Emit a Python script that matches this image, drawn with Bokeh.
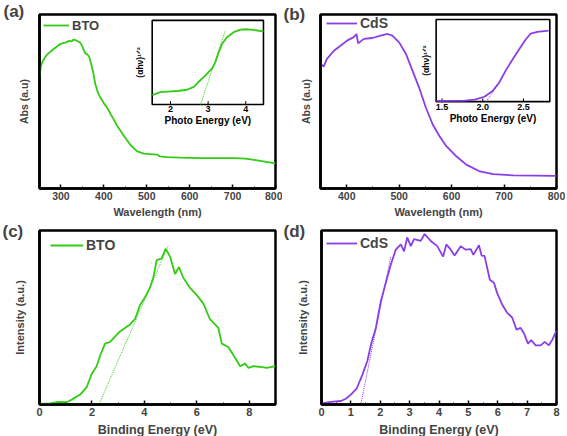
import numpy as np
from bokeh.plotting import figure
from bokeh.models import (Range1d, SingleIntervalTicker, FixedTicker,
                          Legend, LegendItem)
from bokeh.layouts import row, column
from bokeh.embed import file_html
from bokeh.resources import INLINE
from bokeh.core.properties import value

FONT = "Liberation Sans"
GREEN = "#33cc14"
PURPLE = "#8a3fe6"
LW = 1.8

# ---------------- data (y normalised 0..1) -------------
# (a) BTO UV-vis absorbance
BTO_WL = [250, 253, 257, 262, 268, 275, 282, 290, 298, 305, 312, 318, 324, 330,
          335, 340, 345, 350, 355, 358, 362, 366, 370, 375, 380, 385, 390, 395,
          400, 410, 415, 420, 431, 446, 462, 477, 493, 510, 524, 530, 547, 580,
          625, 660, 703, 730, 750, 775, 800]
BTO_ABS = [0.64, 0.70, 0.73, 0.75, 0.77, 0.785, 0.80, 0.815, 0.83, 0.835, 0.84,
           0.848, 0.845, 0.856, 0.852, 0.845, 0.838, 0.815, 0.785, 0.775, 0.77,
           0.755, 0.72, 0.67, 0.60, 0.56, 0.53, 0.51, 0.49, 0.455, 0.43, 0.41,
           0.36, 0.305, 0.25, 0.215, 0.20, 0.197, 0.195, 0.185, 0.18, 0.177,
           0.175, 0.174, 0.175, 0.172, 0.165, 0.155, 0.145]
# (a) inset: Tauc plot
BTO_E = [1.52, 1.73, 2.0, 2.18, 2.44, 2.62, 2.75, 2.93, 3.10, 3.19, 3.28, 3.37,
         3.50, 3.68, 3.86, 4.0, 4.13, 4.3, 4.47]
BTO_TAUC = [0.11, 0.146, 0.155, 0.16, 0.175, 0.21, 0.27, 0.345, 0.425, 0.50,
            0.62, 0.72, 0.80, 0.86, 0.89, 0.895, 0.89, 0.88, 0.87]
BTO_TAUC_FIT_E = [2.80, 3.45]
BTO_TAUC_FIT_V = [0.0, 0.87]
INSET_A_X = [1.515, 4.47]
INSET_A_TICKS = [2, 3, 4]

# (b) CdS UV-vis absorbance
CDS_WL = [350, 351, 356, 362, 375, 388, 400.6, 413.5, 418.6, 421.8, 432.7, 449,
          464.7, 477.6, 487, 500, 513, 525.6, 538, 551, 564, 577, 590, 609, 628,
          654, 679, 718, 760, 800]
CDS_ABS = [0.734, 0.715, 0.70, 0.744, 0.79, 0.82, 0.85, 0.87, 0.888, 0.834,
           0.86, 0.865, 0.879, 0.888, 0.879, 0.84, 0.773, 0.676, 0.58, 0.464,
           0.368, 0.30, 0.243, 0.185, 0.137, 0.098, 0.083, 0.075, 0.074, 0.073]
# (b) inset: Tauc plot
CDS_E = [1.43, 1.49, 1.78, 1.90, 2.02, 2.12, 2.20, 2.28, 2.37, 2.45, 2.53, 2.59,
         2.67, 2.81]
CDS_TAUC = [0.01, 0.01, 0.012, 0.025, 0.06, 0.13, 0.23, 0.375, 0.52, 0.64,
            0.76, 0.83, 0.85, 0.865]
CDS_TAUC_FIT_E = [2.04, 2.20]
CDS_TAUC_FIT_V = [0.0, 0.22]
INSET_B_X = [1.427, 2.824]
INSET_B_TICKS = [1.5, 2.0, 2.5]

# (c) BTO valence-band XPS
BTO_BE = [0.0, 0.4, 0.72, 1.04, 1.23, 1.55, 1.8, 1.99, 2.18, 2.31, 2.5, 2.69,
          2.88, 3.07, 3.26, 3.45, 3.64, 3.83, 4.02, 4.21, 4.34, 4.47, 4.66, 4.81,
          4.98, 5.17, 5.32, 5.48, 5.74, 5.99, 6.25, 6.5, 6.82, 6.95, 7.2, 7.45,
          7.65, 7.84, 7.97, 8.16, 8.48, 8.67, 9.0]
BTO_INT = [0.005, 0.007, 0.015, 0.013, 0.028, 0.057, 0.10, 0.175, 0.22, 0.28,
           0.35, 0.36, 0.39, 0.42, 0.44, 0.46, 0.49, 0.57, 0.615, 0.67, 0.73,
           0.83, 0.84, 0.895, 0.85, 0.75, 0.79, 0.73, 0.67, 0.63, 0.58, 0.49,
           0.44, 0.35, 0.33, 0.27, 0.22, 0.235, 0.21, 0.22, 0.215, 0.21, 0.22]
BTO_VB_FIT_E = [2.18, 4.91]
BTO_VB_FIT_V = [-0.03, 0.912]

# (d) CdS valence-band XPS
CDS_BE = [0.0, 0.32, 0.66, 0.83, 1.0, 1.2, 1.39, 1.56, 1.70, 1.85, 2.02, 2.19,
          2.36, 2.53, 2.70, 2.81, 2.92, 3.04, 3.15, 3.38, 3.51, 3.72, 3.94, 4.14,
          4.25, 4.4, 4.53, 4.74, 4.91, 5.08, 5.17, 5.36, 5.45, 5.55, 5.73, 5.87,
          5.98, 6.15, 6.32, 6.49, 6.64, 6.78, 6.89, 7.03, 7.14, 7.29, 7.46, 7.6,
          7.74, 7.85, 8.0]
CDS_INT = [0.006, 0.015, 0.02, 0.033, 0.057, 0.092, 0.17, 0.25, 0.355, 0.44,
           0.594, 0.70, 0.805, 0.89, 0.92, 0.88, 0.96, 0.91, 0.95, 0.94, 0.98,
           0.94, 0.91, 0.85, 0.92, 0.89, 0.856, 0.91, 0.89, 0.893, 0.86, 0.915,
           0.856, 0.854, 0.717, 0.70, 0.64, 0.575, 0.527, 0.50, 0.43, 0.44,
           0.41, 0.35, 0.37, 0.34, 0.34, 0.36, 0.34, 0.37, 0.425]
CDS_VB_FIT_E = [1.28, 2.36]
CDS_VB_FIT_V = [-0.047, 0.852]


def panel(x_range, interval, fw, fh, bl, br, bt, bb, xlabel, ylabel,
          tick_fs, xlab_fs, ylab_fs, ylab_standoff, tag, tag_dx, tag_standoff,
          lab_standoff):
    p = figure(frame_width=fw, frame_height=fh, x_range=x_range,
               y_range=(0, 1), output_backend="svg", toolbar_location=None,
               min_border_left=bl, min_border_right=br, min_border_top=bt,
               min_border_bottom=bb)
    p.background_fill_color = "white"
    p.border_fill_color = "white"
    p.outline_line_color = "black"
    p.outline_line_width = 2.5
    p.grid.visible = False
    # panel tag "(a)" etc.
    p.title.text = tag
    p.title.align = "left"
    p.title.offset = tag_dx
    p.title.standoff = tag_standoff
    p.title.vertical_align = "bottom"
    p.title.text_font = FONT
    p.title.text_font_style = "bold"
    p.title.text_font_size = "17px"
    ax = p.xaxis[0]
    ax.ticker = SingleIntervalTicker(interval=interval, num_minor_ticks=2)
    ax.axis_line_width = 2.5
    ax.major_tick_in = 4
    ax.major_tick_out = 0
    ax.minor_tick_in = 2
    ax.minor_tick_out = 0
    ax.major_tick_line_width = 1.5
    ax.major_label_standoff = 3
    ax.major_label_text_font = FONT
    ax.major_label_text_font_style = "bold"
    ax.major_label_text_font_size = tick_fs
    ax.axis_label = xlabel
    ax.axis_label_standoff = lab_standoff
    ax.axis_label_text_font = FONT
    ax.axis_label_text_font_style = "bold"
    ax.axis_label_text_font_size = xlab_fs
    ay = p.yaxis[0]
    ay.ticker = FixedTicker(ticks=[])
    ay.axis_line_width = 2.5
    ay.major_tick_line_color = None
    ay.minor_tick_line_color = None
    ay.axis_label = ylabel
    ay.axis_label_standoff = ylab_standoff
    ay.axis_label_text_font = FONT
    ay.axis_label_text_font_style = "bold"
    ay.axis_label_text_font_size = ylab_fs
    return p


def add_legend(p, r, text, fh, gx, cy, gw, fs):
    leg = Legend(items=[LegendItem(label=text, renderers=[r])],
                 location=(gx, fh - cy - 8), margin=0, padding=0,
                 glyph_width=gw, glyph_height=16, label_height=16,
                 label_standoff=3, label_text_font=FONT,
                 label_text_font_style="bold", label_text_font_size=fs,
                 border_line_alpha=0, background_fill_alpha=0)
    p.add_layout(leg)


def inset_range(lo, hi, f0, f1):
    span = (hi - lo) / (f1 - f0)
    start = lo - f0 * span
    return Range1d(start=start, end=start + span)


def add_inset(p, name, xr, fx, fy, ticks, tick_labels, color, xs, ys,
              fit_x, fit_y, ylab_off):
    p.extra_x_ranges[name] = inset_range(xr[0], xr[1], fx[0], fx[1])
    p.extra_y_ranges[name] = inset_range(0, 1, fy[0], fy[1])
    kw = dict(x_range_name=name, y_range_name=name)
    p.quad(left=[xr[0]], right=[xr[1]], bottom=[0], top=[1],
           fill_color="white", line_color="black", line_width=1.6, **kw)
    p.segment(x0=ticks, x1=ticks, y0=[0] * len(ticks), y1=[0.04] * len(ticks),
              line_color="black", line_width=1, **kw)
    p.line(fit_x, fit_y, line_color=color, line_width=1, line_dash="1 1", **kw)
    p.line(xs, ys, line_color=color, line_width=LW, **kw)
    p.text(x=ticks, y=[0] * len(ticks), text=tick_labels, y_offset=2,
           text_align="center", text_baseline="top", text_font=value(FONT),
           text_font_style="bold", text_font_size="9px", **kw)
    p.text(x=[(xr[0] + xr[1]) / 2], y=[0], text=["Photo Energy (eV)"],
           y_offset=11, text_align="center", text_baseline="top",
           text_font=value(FONT), text_font_style="bold",
           text_font_size="10px", **kw)
    p.text(x=[xr[0]], y=[0.5], text=["(αhν)¹ᐟ²"], x_offset=-ylab_off,
           angle=np.pi / 2, text_align="center", text_baseline="middle",
           text_font=value(FONT), text_font_style="bold",
           text_font_size="8.5px", **kw)


# ---------------- panel (a) ----------------
FH = 174
pa = panel((250, 800), 100, 236, FH, 39, 7, 14, 30, "Wavelength (nm)",
           "Abs (a.u)", "10.5px", "11px", "10.5px", 10, "(a)", -36, -12, 3)
ra = pa.line(BTO_WL, BTO_ABS, line_color=GREEN, line_width=LW)
add_legend(pa, ra, "BTO", FH, 4, 11, 26, "13px")
add_inset(pa, "ia", INSET_A_X, (0.4775, 0.949), (0.483, 0.966),
          INSET_A_TICKS, [str(t) for t in INSET_A_TICKS], GREEN,
          BTO_E, BTO_TAUC, BTO_TAUC_FIT_E, BTO_TAUC_FIT_V, 12)

# ---------------- panel (b) ----------------
pb = panel((350, 800), 100, 236, FH, 38, 9, 14, 30, "Wavelength (nm)",
           "Abs (a.u)", "10.5px", "11px", "10.5px", 9, "(b)", -37, -18, 3)
rb = pb.line(CDS_WL, CDS_ABS, line_color=PURPLE, line_width=LW)
add_legend(pb, rb, "CdS", FH, 6, 9, 31, "14px")
add_inset(pb, "ib", INSET_B_X, (0.490, 0.9716), (0.499, 0.971),
          INSET_B_TICKS, ["%.1f" % t for t in INSET_B_TICKS], PURPLE,
          CDS_E, CDS_TAUC, CDS_TAUC_FIT_E, CDS_TAUC_FIT_V, 10)

# ---------------- panel (c) ----------------
pc = panel((0, 9), 2, 236, FH, 39, 7, 10, 33, "Binding Energy (eV)",
           "Intensity (a.u.)", "11px", "12.5px", "11px", 14, "(c)", -37, -20, 4)
pc.line(BTO_VB_FIT_E, BTO_VB_FIT_V, line_color=GREEN, line_width=1,
        line_dash="1 1")
rc = pc.line(BTO_BE, BTO_INT, line_color=GREEN, line_width=LW)
add_legend(pc, rc, "BTO", FH, 11, 15, 33, "14px")

# ---------------- panel (d) ----------------
pd_ = panel((0, 8), 1, 235, FH, 39, 9, 10, 33, "Binding Energy (eV)",
            "Intensity (a.u.)", "11px", "12.5px", "11px", 13, "(d)", -38, -20, 4)
pd_.line(CDS_VB_FIT_E, CDS_VB_FIT_V, line_color=PURPLE, line_width=1,
         line_dash="1 1")
rd = pd_.line(CDS_BE, CDS_INT, line_color=PURPLE, line_width=LW)
add_legend(pd_, rd, "CdS", FH, 5, 13, 31, "14px")

layout = column(row(pa, pb), row(pc, pd_))
open("out.html", "w").write(file_html(layout, INLINE))
